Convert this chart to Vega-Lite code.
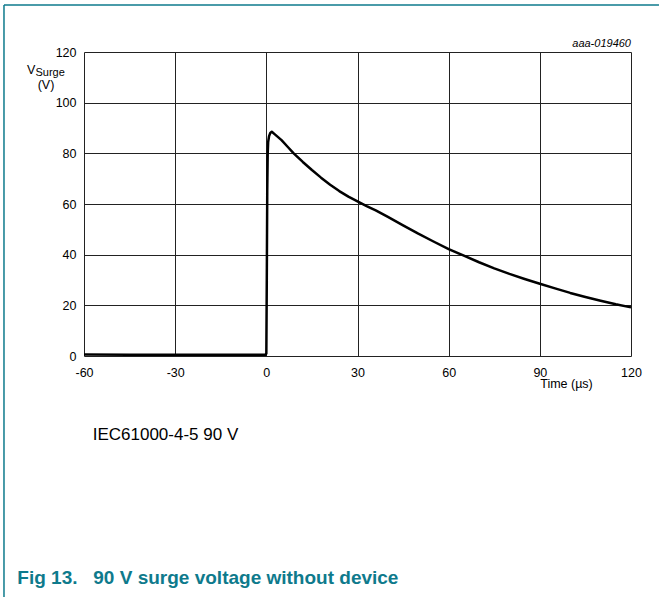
{
  "$schema": "https://vega.github.io/schema/vega-lite/v6.json",
  "width": 547,
  "height": 304,
  "autosize": "none",
  "padding": {"left": 84, "top": 52, "right": 28, "bottom": 241},
  "background": "white",
  "config": {
    "view": {"stroke": null},
    "font": "Liberation Sans",
    "text": {"font": "Liberation Sans", "color": "black"}
  },
  "layer": [
    {
      "data": {"values": [
        {"t": -60, "v": 0.6}, {"t": -45, "v": 0.5}, {"t": -30, "v": 0.5}, {"t": -15, "v": 0.5},
        {"t": -0.3, "v": 0.5}, {"t": 0, "v": 1}, {"t": 0.15, "v": 30}, {"t": 0.3, "v": 65},
        {"t": 0.45, "v": 80}, {"t": 0.6, "v": 84.5}, {"t": 0.9, "v": 86.8}, {"t": 1.3, "v": 88},
        {"t": 1.8, "v": 88.5}, {"t": 3, "v": 87.3}, {"t": 5, "v": 85.2}, {"t": 7, "v": 82.6},
        {"t": 9, "v": 80}, {"t": 12, "v": 76.6}, {"t": 15, "v": 73.4}, {"t": 18, "v": 70.4},
        {"t": 21, "v": 67.6}, {"t": 24, "v": 65.1}, {"t": 27, "v": 62.9}, {"t": 30, "v": 61},
        {"t": 33, "v": 59.2}, {"t": 36, "v": 57.5}, {"t": 40, "v": 54.9}, {"t": 45, "v": 51.6},
        {"t": 50, "v": 48.3}, {"t": 55, "v": 45.2}, {"t": 60, "v": 42.2}, {"t": 65, "v": 39.6},
        {"t": 70, "v": 37}, {"t": 75, "v": 34.6}, {"t": 80, "v": 32.4}, {"t": 85, "v": 30.4},
        {"t": 90, "v": 28.5}, {"t": 95, "v": 26.7}, {"t": 100, "v": 24.9}, {"t": 105, "v": 23.3},
        {"t": 110, "v": 21.8}, {"t": 115, "v": 20.4}, {"t": 120, "v": 19.2}
      ]},
      "mark": {"type": "line", "color": "black", "strokeWidth": 2.5, "strokeJoin": "round"},
      "encoding": {
        "x": {
          "field": "t", "type": "quantitative",
          "scale": {"domain": [-60, 120], "nice": false, "zero": false},
          "axis": {
            "values": [-60, -30, 0, 30, 60, 90, 120],
            "labelExpr": "'' + datum.value",
            "title": "Time (µs)",
            "titleFont": "Liberation Sans", "titleFontSize": 12.5, "titleFontWeight": "normal",
            "titleColor": "black", "titleX": 482, "titleY": 21, "titleAlign": "center", "titleBaseline": "top",
            "labelFont": "Liberation Sans", "labelFontSize": 12.5, "labelColor": "black",
            "labelPadding": 10, "ticks": false, "domain": false,
            "grid": true, "gridColor": "#222", "gridWidth": 1, "gridOpacity": 1,
            "labelFlush": false, "labelOverlap": false
          }
        },
        "y": {
          "field": "v", "type": "quantitative",
          "scale": {"domain": [0, 120], "nice": false},
          "axis": {
            "values": [0, 20, 40, 60, 80, 100, 120],
            "title": null,
            "labelFont": "Liberation Sans", "labelFontSize": 12.5, "labelColor": "black",
            "labelPadding": 8, "ticks": false, "domain": false,
            "grid": true, "gridColor": "#222", "gridWidth": 1, "gridOpacity": 1,
            "labelFlush": false, "labelOverlap": false
          }
        }
      }
    },
    {
      "data": {"values": [{}]},
      "mark": {"type": "rule", "clip": false, "color": "#0e7a8c", "strokeWidth": 1.5},
      "encoding": {
        "x": {"datum": -86.33, "scale": {"domain": [-60, 120], "nice": false, "zero": false}},
        "y": {"datum": -95.13, "scale": {"domain": [0, 120], "nice": false}},
        "y2": {"datum": 138.55}
      }
    },
    {
      "data": {"values": [{}]},
      "mark": {"type": "rule", "clip": false, "color": "#0e7a8c", "strokeWidth": 1.5},
      "encoding": {
        "x": {"datum": -86.33, "scale": {"domain": [-60, 120], "nice": false, "zero": false}},
        "x2": {"datum": 129.21},
        "y": {"datum": 138.55, "scale": {"domain": [0, 120], "nice": false}}
      }
    },
    {
      "data": {"values": [{}]},
      "mark": {"type": "text", "clip": false, "text": "aaa-019460", "align": "right", "baseline": "alphabetic", "fontSize": 11, "fontStyle": "italic", "color": "black"},
      "encoding": {
        "x": {"datum": 120, "scale": {"domain": [-60, 120], "nice": false, "zero": false}},
        "y": {"datum": 121.97, "scale": {"domain": [0, 120], "nice": false}}
      }
    },
    {
      "data": {"values": [{}]},
      "mark": {"type": "text", "clip": false, "text": "V", "align": "left", "baseline": "alphabetic", "fontSize": 12.5, "color": "black"},
      "encoding": {
        "x": {"datum": -78.76, "scale": {"domain": [-60, 120], "nice": false, "zero": false}},
        "y": {"datum": 111.3, "scale": {"domain": [0, 120], "nice": false}}
      }
    },
    {
      "data": {"values": [{}]},
      "mark": {"type": "text", "clip": false, "text": "Surge", "align": "left", "baseline": "alphabetic", "fontSize": 11, "color": "black"},
      "encoding": {
        "x": {"datum": -75.96, "scale": {"domain": [-60, 120], "nice": false, "zero": false}},
        "y": {"datum": 110.53, "scale": {"domain": [0, 120], "nice": false}}
      }
    },
    {
      "data": {"values": [{}]},
      "mark": {"type": "text", "clip": false, "text": "(V)", "align": "center", "baseline": "alphabetic", "fontSize": 12.5, "color": "black"},
      "encoding": {
        "x": {"datum": -72.5, "scale": {"domain": [-60, 120], "nice": false, "zero": false}},
        "y": {"datum": 105.4, "scale": {"domain": [0, 120], "nice": false}}
      }
    },
    {
      "data": {"values": [{}]},
      "mark": {"type": "text", "clip": false, "text": "IEC61000-4-5 90 V", "align": "left", "baseline": "alphabetic", "fontSize": 17, "color": "black"},
      "encoding": {
        "x": {"datum": -57.14, "scale": {"domain": [-60, 120], "nice": false, "zero": false}},
        "y": {"datum": -33.16, "scale": {"domain": [0, 120], "nice": false}}
      }
    },
    {
      "data": {"values": [{}]},
      "mark": {"type": "text", "clip": false, "text": "Fig 13.", "align": "left", "baseline": "alphabetic", "fontSize": 19, "fontWeight": "bold", "color": "#0e7a8c"},
      "encoding": {
        "x": {"datum": -81.95, "scale": {"domain": [-60, 120], "nice": false, "zero": false}},
        "y": {"datum": -90.0, "scale": {"domain": [0, 120], "nice": false}}
      }
    },
    {
      "data": {"values": [{}]},
      "mark": {"type": "text", "clip": false, "text": "90 V surge voltage without device", "align": "left", "baseline": "alphabetic", "fontSize": 19, "fontWeight": "bold", "color": "#0e7a8c"},
      "encoding": {
        "x": {"datum": -56.94, "scale": {"domain": [-60, 120], "nice": false, "zero": false}},
        "y": {"datum": -90.0, "scale": {"domain": [0, 120], "nice": false}}
      }
    }
  ]
}
